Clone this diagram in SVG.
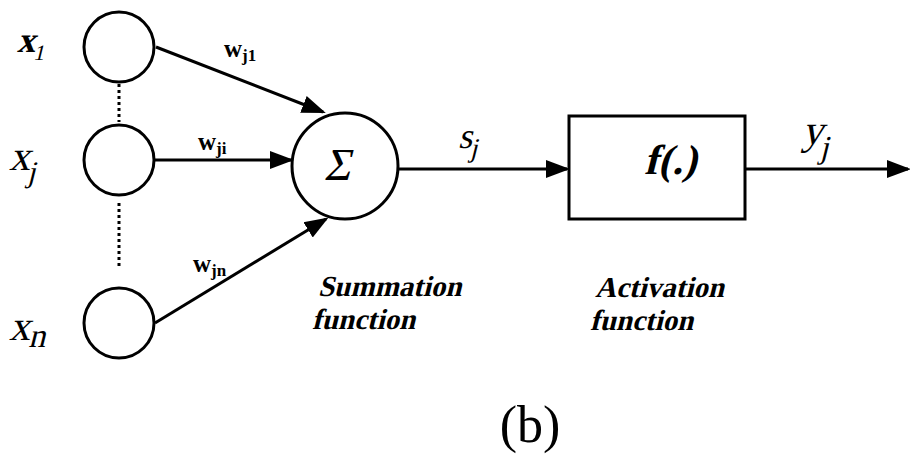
<svg xmlns="http://www.w3.org/2000/svg" width="910" height="457" viewBox="0 0 910 457">
<style>
.s{fill:none;stroke:#000;stroke-width:3}
.ln{stroke:#000;stroke-width:3;fill:none}
.dot{stroke:#000;stroke-width:3;stroke-dasharray:3 3;fill:none}
text{font-family:'Liberation Serif','Times New Roman',serif;fill:#000}
.b{font-weight:bold}
</style>
<defs>
<marker id="ah" markerUnits="userSpaceOnUse" markerWidth="24" markerHeight="20" viewBox="0 0 24 20" refX="21" refY="10" orient="auto">
<path d="M0,1 L24,10 L0,19 z" fill="#000"/>
</marker>
</defs>
<rect width="910" height="457" fill="#fff"/>
<g id="connectors">
<line class="dot" x1="119" y1="84" x2="119" y2="122"/>
<line class="dot" x1="119" y1="203" x2="119" y2="269"/>
<line class="ln" x1="156" y1="47" x2="323" y2="112" marker-end="url(#ah)"/>
<line class="ln" x1="155" y1="160" x2="291" y2="160" marker-end="url(#ah)"/>
<line class="ln" x1="155" y1="323" x2="326" y2="219" marker-end="url(#ah)"/>
<line class="ln" x1="398" y1="169" x2="567" y2="169" marker-end="url(#ah)"/>
<line class="ln" x1="745" y1="169" x2="908" y2="169" marker-end="url(#ah)"/>
</g>
<g id="x1">
<circle class="s" cx="119" cy="47" r="35"/>
<text class="b" transform="translate(17,52) skewX(-14)" font-size="36">x<tspan font-size="22" dy="8" font-weight="normal">1</tspan></text>
</g>
<g id="xj">
<circle class="s" cx="119" cy="160" r="35"/>
<text transform="translate(9,170) skewX(-14)" font-size="42">x<tspan font-size="30" dy="12">j</tspan></text>
</g>
<g id="xn">
<circle class="s" cx="119" cy="323" r="35"/>
<text transform="translate(9,340) skewX(-14)" font-size="42">x<tspan font-size="34" dy="7">n</tspan></text>
</g>
<g id="weights">
<text class="b" x="224" y="57" font-size="25">w<tspan font-size="17" dy="4">j1</tspan></text>
<text class="b" x="198" y="150" font-size="25">w<tspan font-size="17" dy="4">ji</tspan></text>
<text class="b" x="193" y="272" font-size="25">w<tspan font-size="17" dy="4">jn</tspan></text>
</g>
<g id="sum">
<circle class="s" cx="345" cy="166" r="53"/>
<text transform="translate(337,180) skewX(-14)" font-size="46" text-anchor="middle">Σ</text>
<text class="b" transform="translate(318,296) skewX(-14)" font-size="29">Summation</text>
<text class="b" transform="translate(312,329) skewX(-14)" font-size="29">function</text>
</g>
<g id="sj">
<text transform="translate(458,148) skewX(-14)" font-size="36">s<tspan font-size="27" dy="9">j</tspan></text>
</g>
<g id="activation">
<rect class="s" x="569" y="116" width="176" height="103"/>
<text class="b" transform="translate(644,174) skewX(-14)" font-size="42">f(.)</text>
<text class="b" transform="translate(595,297) skewX(-14)" font-size="29">Activation</text>
<text class="b" transform="translate(590,330) skewX(-14)" font-size="29">function</text>
</g>
<g id="yj">
<text transform="translate(802,144) skewX(-14)" font-size="42">y<tspan font-size="32" dy="14">j</tspan></text>
</g>
<text x="530" y="442" font-size="52" text-anchor="middle">(b)</text>
</svg>
